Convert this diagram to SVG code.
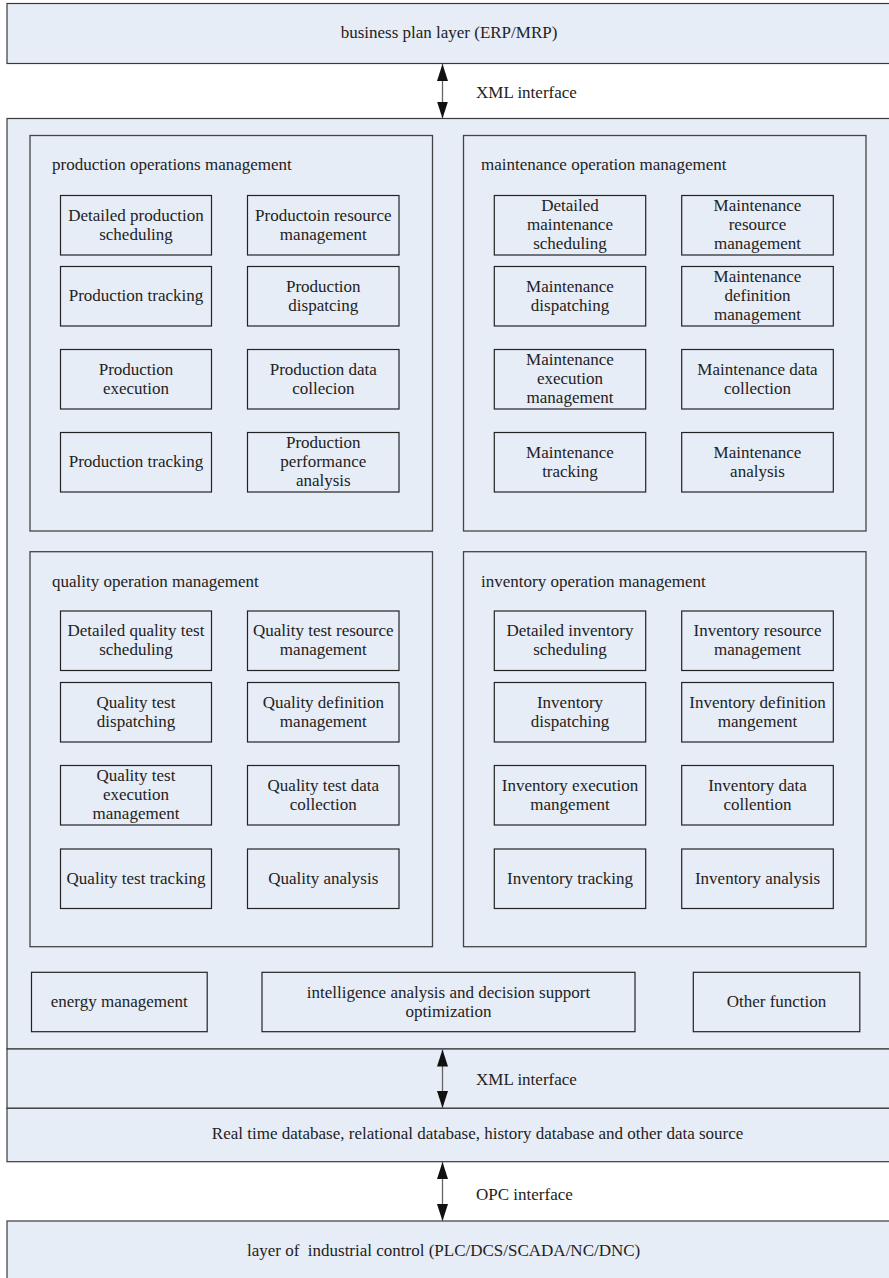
<svg xmlns="http://www.w3.org/2000/svg" width="889" height="1278" viewBox="0 0 889 1278">
<style>
  .layer { fill: #e7edf7; stroke: #3a3a3a; stroke-width: 1.2; }
  .panel { fill: #e7edf7; stroke: #444; stroke-width: 1.3; }
  .box { fill: #e7edf7; stroke: #222; stroke-width: 1.2; }
  text { font-family: "Liberation Serif", "Times New Roman", serif; font-size: 17px; fill: #222; }
  .c { text-anchor: middle; }
  .conn { stroke: #666; stroke-width: 1.3; fill: none; }
</style>
<defs>
  <marker id="ah" viewBox="0 0 17 11" refX="17" refY="5.5" markerWidth="17" markerHeight="11" markerUnits="userSpaceOnUse" orient="auto-start-reverse">
    <path d="M0,0 L17,5.5 L0,11 Z" fill="#111"/>
  </marker>
</defs>
<rect width="889" height="1278" fill="#ffffff"/>

<g id="business-plan-layer">
  <rect class="layer" x="7" y="3.5" width="900" height="60"/>
  <text class="c" x="449" y="38">business plan layer (ERP/MRP)</text>
</g>

<g id="mes-layer">
  <rect class="layer" x="7" y="118.5" width="900" height="930.5"/>
</g>

<g id="production-operations-management">
  <rect class="panel" x="30" y="135.5" width="402.5" height="395.5"/>
  <text x="52" y="170">production operations management</text>
</g>
<g id="p1"><rect class="box" x="60.5" y="195.5" width="151" height="59.5"/><text class="c"><tspan x="136" y="220.75">Detailed production</tspan><tspan x="136" y="239.75">scheduling</tspan></text></g>
<g id="p2"><rect class="box" x="247.5" y="195.5" width="151.5" height="59.5"/><text class="c"><tspan x="323.3" y="220.75">Productoin resource</tspan><tspan x="323.3" y="239.75">management</tspan></text></g>
<g id="p3"><rect class="box" x="60.5" y="266.5" width="151" height="59.5"/><text class="c" x="136" y="301.25">Production tracking</text></g>
<g id="p4"><rect class="box" x="247.5" y="266.5" width="151.5" height="59.5"/><text class="c"><tspan x="323.3" y="291.75">Production</tspan><tspan x="323.3" y="310.75">dispatcing</tspan></text></g>
<g id="p5"><rect class="box" x="60.5" y="349.5" width="151" height="59.5"/><text class="c"><tspan x="136" y="374.75">Production</tspan><tspan x="136" y="393.75">execution</tspan></text></g>
<g id="p6"><rect class="box" x="247.5" y="349.5" width="151.5" height="59.5"/><text class="c"><tspan x="323.3" y="374.75">Production data</tspan><tspan x="323.3" y="393.75">collecion</tspan></text></g>
<g id="p7"><rect class="box" x="60.5" y="432.5" width="151" height="59.5"/><text class="c" x="136" y="467.25">Production tracking</text></g>
<g id="p8"><rect class="box" x="247.5" y="432.5" width="151.5" height="59.5"/><text class="c"><tspan x="323.3" y="448.25">Production</tspan><tspan x="323.3" y="467.25">performance</tspan><tspan x="323.3" y="486.25">analysis</tspan></text></g>

<g id="maintenance-operation-management">
  <rect class="panel" x="463.5" y="135.5" width="402.5" height="395.5"/>
  <text x="481" y="170">maintenance operation management</text>
</g>
<g id="m1"><rect class="box" x="494.3" y="195.5" width="151.4" height="59.5"/><text class="c"><tspan x="570" y="211.25">Detailed</tspan><tspan x="570" y="230.25">maintenance</tspan><tspan x="570" y="249.25">scheduling</tspan></text></g>
<g id="m2"><rect class="box" x="681.7" y="195.5" width="151.6" height="59.5"/><text class="c"><tspan x="757.5" y="211.25">Maintenance</tspan><tspan x="757.5" y="230.25">resource</tspan><tspan x="757.5" y="249.25">management</tspan></text></g>
<g id="m3"><rect class="box" x="494.3" y="266.5" width="151.4" height="59.5"/><text class="c"><tspan x="570" y="291.75">Maintenance</tspan><tspan x="570" y="310.75">dispatching</tspan></text></g>
<g id="m4"><rect class="box" x="681.7" y="266.5" width="151.6" height="59.5"/><text class="c"><tspan x="757.5" y="282.25">Maintenance</tspan><tspan x="757.5" y="301.25">definition</tspan><tspan x="757.5" y="320.25">management</tspan></text></g>
<g id="m5"><rect class="box" x="494.3" y="349.5" width="151.4" height="59.5"/><text class="c"><tspan x="570" y="365.25">Maintenance</tspan><tspan x="570" y="384.25">execution</tspan><tspan x="570" y="403.25">management</tspan></text></g>
<g id="m6"><rect class="box" x="681.7" y="349.5" width="151.6" height="59.5"/><text class="c"><tspan x="757.5" y="374.75">Maintenance data</tspan><tspan x="757.5" y="393.75">collection</tspan></text></g>
<g id="m7"><rect class="box" x="494.3" y="432.5" width="151.4" height="59.5"/><text class="c"><tspan x="570" y="457.75">Maintenance</tspan><tspan x="570" y="476.75">tracking</tspan></text></g>
<g id="m8"><rect class="box" x="681.7" y="432.5" width="151.6" height="59.5"/><text class="c"><tspan x="757.5" y="457.75">Maintenance</tspan><tspan x="757.5" y="476.75">analysis</tspan></text></g>

<g id="quality-operation-management">
  <rect class="panel" x="30" y="551.7" width="402.5" height="395"/>
  <text x="52" y="586.5">quality operation management</text>
</g>
<g id="q1"><rect class="box" x="60.5" y="611" width="151" height="59.5"/><text class="c"><tspan x="136" y="636.25">Detailed quality test</tspan><tspan x="136" y="655.25">scheduling</tspan></text></g>
<g id="q2"><rect class="box" x="247.5" y="611" width="151.5" height="59.5"/><text class="c"><tspan x="323.3" y="636.25">Quality test resource</tspan><tspan x="323.3" y="655.25">management</tspan></text></g>
<g id="q3"><rect class="box" x="60.5" y="682.5" width="151" height="59.5"/><text class="c"><tspan x="136" y="707.75">Quality test</tspan><tspan x="136" y="726.75">dispatching</tspan></text></g>
<g id="q4"><rect class="box" x="247.5" y="682.5" width="151.5" height="59.5"/><text class="c"><tspan x="323.3" y="707.75">Quality definition</tspan><tspan x="323.3" y="726.75">management</tspan></text></g>
<g id="q5"><rect class="box" x="60.5" y="765.5" width="151" height="59.5"/><text class="c"><tspan x="136" y="781.25">Quality test</tspan><tspan x="136" y="800.25">execution</tspan><tspan x="136" y="819.25">management</tspan></text></g>
<g id="q6"><rect class="box" x="247.5" y="765.5" width="151.5" height="59.5"/><text class="c"><tspan x="323.3" y="790.75">Quality test data</tspan><tspan x="323.3" y="809.75">collection</tspan></text></g>
<g id="q7"><rect class="box" x="60.5" y="849" width="151" height="59.5"/><text class="c" x="136" y="883.75">Quality test tracking</text></g>
<g id="q8"><rect class="box" x="247.5" y="849" width="151.5" height="59.5"/><text class="c" x="323.3" y="883.75">Quality analysis</text></g>

<g id="inventory-operation-management">
  <rect class="panel" x="463.5" y="551.7" width="402.5" height="395"/>
  <text x="481" y="586.5">inventory operation management</text>
</g>
<g id="i1"><rect class="box" x="494.3" y="611" width="151.4" height="59.5"/><text class="c"><tspan x="570" y="636.25">Detailed inventory</tspan><tspan x="570" y="655.25">scheduling</tspan></text></g>
<g id="i2"><rect class="box" x="681.7" y="611" width="151.6" height="59.5"/><text class="c"><tspan x="757.5" y="636.25">Inventory resource</tspan><tspan x="757.5" y="655.25">management</tspan></text></g>
<g id="i3"><rect class="box" x="494.3" y="682.5" width="151.4" height="59.5"/><text class="c"><tspan x="570" y="707.75">Inventory</tspan><tspan x="570" y="726.75">dispatching</tspan></text></g>
<g id="i4"><rect class="box" x="681.7" y="682.5" width="151.6" height="59.5"/><text class="c"><tspan x="757.5" y="707.75">Inventory definition</tspan><tspan x="757.5" y="726.75">mangement</tspan></text></g>
<g id="i5"><rect class="box" x="494.3" y="765.5" width="151.4" height="59.5"/><text class="c"><tspan x="570" y="790.75">Inventory execution</tspan><tspan x="570" y="809.75">mangement</tspan></text></g>
<g id="i6"><rect class="box" x="681.7" y="765.5" width="151.6" height="59.5"/><text class="c"><tspan x="757.5" y="790.75">Inventory data</tspan><tspan x="757.5" y="809.75">collention</tspan></text></g>
<g id="i7"><rect class="box" x="494.3" y="849" width="151.4" height="59.5"/><text class="c" x="570" y="883.75">Inventory tracking</text></g>
<g id="i8"><rect class="box" x="681.7" y="849" width="151.6" height="59.5"/><text class="c" x="757.5" y="883.75">Inventory analysis</text></g>

<g id="energy-management"><rect class="box" x="31.5" y="972.3" width="175.7" height="59.4"/><text class="c" x="119.3" y="1007">energy management</text></g>
<g id="intelligence-analysis"><rect class="box" x="262" y="972.3" width="373" height="59.4"/><text class="c"><tspan x="448.5" y="997.5">intelligence analysis and decision support</tspan><tspan x="448.5" y="1016.5">optimization</tspan></text></g>
<g id="other-function"><rect class="box" x="693.3" y="972.3" width="166.5" height="59.4"/><text class="c" x="776.5" y="1007">Other function</text></g>

<g id="xml-interface-region">
  <rect class="layer" x="7" y="1049" width="900" height="59.3"/>
</g>
<g id="data-source-layer">
  <rect class="layer" x="7" y="1108.3" width="900" height="53.4"/>
  <text class="c" x="477.6" y="1138.5">Real time database, relational database, history database and other data source</text>
</g>
<g id="industrial-control-layer">
  <rect class="layer" x="7" y="1221" width="900" height="70"/>
  <text class="c" x="443.6" y="1255.5" style="white-space:pre">layer of  industrial control (PLC/DCS/SCADA/NC/DNC)</text>
</g>

<g id="connectors">
  <line class="conn" x1="442.5" y1="64" x2="442.5" y2="118.5" marker-start="url(#ah)" marker-end="url(#ah)"/>
  <text x="476" y="98">XML interface</text>
  <line class="conn" x1="442.5" y1="1049.5" x2="442.5" y2="1108" marker-start="url(#ah)" marker-end="url(#ah)"/>
  <text x="476" y="1085">XML interface</text>
  <line class="conn" x1="442.5" y1="1162" x2="442.5" y2="1221" marker-start="url(#ah)" marker-end="url(#ah)"/>
  <text x="476" y="1200">OPC interface</text>
</g>
</svg>
